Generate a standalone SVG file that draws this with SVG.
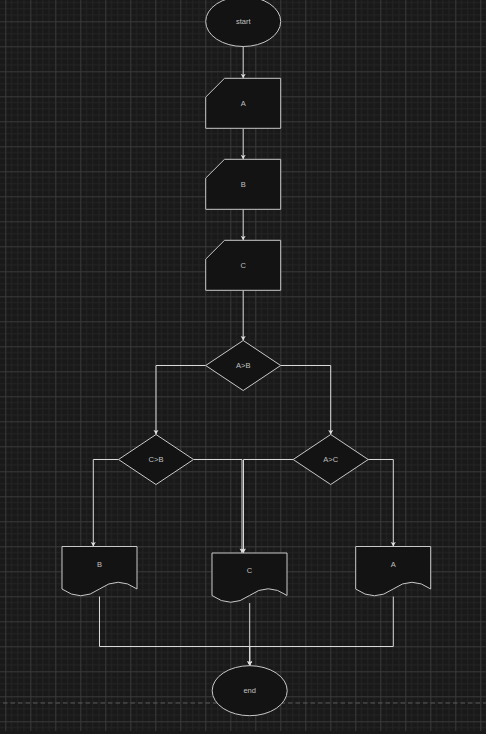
<svg xmlns="http://www.w3.org/2000/svg" width="486" height="734" viewBox="0 0 486 734">
<defs>
<pattern id="grid" patternUnits="userSpaceOnUse" x="5.3" y="21.3" width="25" height="25">
<path d="M6.25,0V25M12.5,0V25M18.75,0V25M0,6.25H25M0,12.5H25M0,18.75H25" stroke="#242424" stroke-width="1" fill="none"/>
<path d="M0.5,0V25M0,0.5H25" stroke="#3a3a3a" stroke-width="1" fill="none"/>
</pattern>
<marker id="arr" markerUnits="userSpaceOnUse" markerWidth="6" markerHeight="6" refX="5" refY="3" orient="auto">
<path d="M0.5,0.5 L5,3 L0.5,5.5 L1.6,3 Z" fill="#e0e0e0"/>
</marker>
<style>
.n{fill:#131313;stroke:#c8c8c8;stroke-width:1}
.e{fill:none;stroke:#d8d8d8;stroke-width:1}
.t{font-family:"Liberation Sans",Arial,sans-serif;font-size:7.5px;fill:#c0c0c0;text-anchor:middle;dominant-baseline:central}
</style>
</defs>
<rect x="0" y="0" width="486" height="734" fill="#191919"/>
<rect x="0" y="0" width="486" height="731" fill="url(#grid)"/>
<line x1="3" y1="703" x2="486" y2="703" stroke="#5a5a5a" stroke-width="1" stroke-dasharray="4.5 3"/>
<g id="connectors">
<path class="e" d="M243.2,46.5V78.3" marker-end="url(#arr)"/>
<path class="e" d="M243.2,128.3V159.3" marker-end="url(#arr)"/>
<path class="e" d="M243.2,209.3V240.3" marker-end="url(#arr)"/>
<path class="e" d="M243.2,290.3V340.5" marker-end="url(#arr)"/>
<path class="e" d="M205.7,365.5H156V434.5" marker-end="url(#arr)"/>
<path class="e" d="M280.7,365.5H330.7V434.5" marker-end="url(#arr)"/>
<path class="e" d="M118.5,459.5H93.3V546.5" marker-end="url(#arr)"/>
<path class="e" d="M193.5,459.5H242V553" marker-end="url(#arr)"/>
<path class="e" d="M293.2,459.5H243.5V553" marker-end="url(#arr)"/>
<path class="e" d="M368.2,459.5H393.3V546.5" marker-end="url(#arr)"/>
<path class="e" d="M99.5,596.5V646.5H249.7V665.7" marker-end="url(#arr)"/>
<path class="e" d="M249.7,603V665.7" marker-end="url(#arr)"/>
<path class="e" d="M393.3,596.5V646.5H249.7V665.7" marker-end="url(#arr)"/>
</g>
<g id="start"><ellipse class="n" cx="243.2" cy="21.5" rx="37.5" ry="25"/><text class="t" x="243.2" y="21.5">start</text></g>
<g id="inA"><path class="n" d="M224.5,78.3H280.7V128.3H205.7V97.1Z"/><text class="t" x="243.2" y="103.3">A</text></g>
<g id="inB"><path class="n" d="M224.5,159.3H280.7V209.3H205.7V178.1Z"/><text class="t" x="243.2" y="184.3">B</text></g>
<g id="inC"><path class="n" d="M224.5,240.3H280.7V290.3H205.7V259.1Z"/><text class="t" x="243.2" y="265.3">C</text></g>
<g id="dAB"><path class="n" d="M243.2,340.5L280.7,365.5L243.2,390.5L205.7,365.5Z"/><text class="t" x="243.2" y="365.5">A&gt;B</text></g>
<g id="dCB"><path class="n" d="M156,434.5L193.5,459.5L156,484.5L118.5,459.5Z"/><text class="t" x="156" y="459.5">C&gt;B</text></g>
<g id="dAC"><path class="n" d="M330.7,434.5L368.2,459.5L330.7,484.5L293.2,459.5Z"/><text class="t" x="330.7" y="459.5">A&gt;C</text></g>
<g id="outB"><path class="n" d="M62,546.5H137V589Q118.25,575.5 99.5,589Q80.75,602.5 62,589Z"/><text class="t" x="99.5" y="564">B</text></g>
<g id="outC"><path class="n" d="M212,553H287V595.5Q268.25,582 249.5,595.5Q230.75,609 212,595.5Z"/><text class="t" x="249.5" y="570.5">C</text></g>
<g id="outA"><path class="n" d="M355.7,546.5H430.7V589Q411.95,575.5 393.2,589Q374.45,602.5 355.7,589Z"/><text class="t" x="393.2" y="564">A</text></g>
<g id="end"><ellipse class="n" cx="249.7" cy="690.7" rx="37.5" ry="25"/><text class="t" x="249.7" y="690.7">end</text></g>
</svg>
